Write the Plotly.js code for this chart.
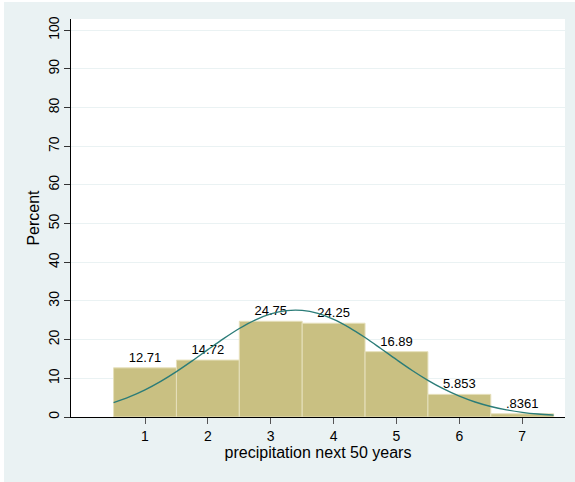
<!DOCTYPE html>
<html>
<head>
<meta charset="utf-8">
<script src="https://cdn.plot.ly/plotly-3.0.1.min.js"></script>
<style>
  html, body { margin: 0; padding: 0; background: #ffffff; }
  #chart { position: absolute; left: 4px; top: 2px; width: 571px; height: 480px; }
</style>
</head>
<body>
<div id="chart"></div>
<script>
// Histogram bins (centres) and percentages
const binCenters = [1, 2, 3, 4, 5, 6, 7];
const percents = [12.71, 14.72, 24.75, 24.25, 16.89, 5.853, 0.8361];
const barLabels = ['12.71', '14.72', '24.75', '24.25', '16.89', '5.853', '.8361'];

// Normal density overlay (percent scale)
const curveX = [0.5, 0.75, 1.0, 1.25, 1.5, 1.75, 2.0, 2.25, 2.5, 2.75, 3.0, 3.25, 3.5, 3.75,
                4.0, 4.25, 4.5, 4.75, 5.0, 5.25, 5.5, 5.75, 6.0, 6.25, 6.5, 6.75, 7.0, 7.25, 7.5];
const curveY = [3.73, 5.20, 7.03, 9.23, 11.75, 14.52, 17.41, 20.26, 22.88, 25.07, 26.66, 27.51, 27.56, 26.78,
                25.26, 23.13, 20.55, 17.71, 14.82, 12.03, 9.48, 7.25, 5.38, 3.87, 2.71, 1.84, 1.21, 0.77, 0.48];

const xTicks = [1, 2, 3, 4, 5, 6, 7];
const yTicks = [0, 10, 20, 30, 40, 50, 60, 70, 80, 90, 100];

const bars = {
  type: 'bar',
  x: binCenters,
  y: percents,
  width: 1,
  text: barLabels,
  textposition: 'outside',
  cliponaxis: false,
  textfont: { family: 'Liberation Sans, Arial, sans-serif', size: 13, color: '#000000' },
  marker: { color: '#C9C082', line: { color: '#E6E0BC', width: 1 } },
  hoverinfo: 'x+y',
  showlegend: false
};

const curve = {
  type: 'scatter',
  mode: 'lines',
  x: curveX,
  y: curveY,
  line: { color: '#2B7C78', width: 1.4, shape: 'spline' },
  hoverinfo: 'skip',
  showlegend: false
};

const layout = {
  width: 571,
  height: 480,
  margin: { l: 67, r: 10, t: 17, b: 65 },
  paper_bgcolor: '#EAF2F3',
  plot_bgcolor: '#ffffff',
  font: { family: 'Liberation Sans, Arial, sans-serif', size: 14, color: '#000000' },
  bargap: 0,
  xaxis: {
    range: [-0.177, 7.68],
    tickvals: xTicks,
    ticktext: xTicks.map(String),
    ticks: 'outside',
    ticklen: 6,
    tickcolor: '#555555',
    tickwidth: 1,
    showgrid: false,
    zeroline: false,
    showline: true,
    linecolor: '#000000',
    linewidth: 1,
    tickfont: { size: 14, color: '#000000' },
    title: { text: 'precipitation next 50 years', font: { size: 16, color: '#000000' }, standoff: 2 }
  },
  yaxis: {
    range: [0, 102.9],
    tickvals: yTicks,
    ticktext: yTicks.map(String),
    tickangle: -90,
    ticks: 'outside',
    ticklen: 6,
    ticklabelstandoff: -1,
    tickcolor: '#333333',
    tickwidth: 1,
    showgrid: true,
    gridcolor: '#EAF2F3',
    gridwidth: 1,
    zeroline: false,
    showline: true,
    linecolor: '#000000',
    linewidth: 1,
    tickfont: { size: 14, color: '#000000' },
    title: { text: 'Percent', font: { size: 16, color: '#000000' }, standoff: 2 }
  }
};

Plotly.newPlot('chart', [bars, curve], layout, { displayModeBar: false, staticPlot: true });
</script>
</body>
</html>
